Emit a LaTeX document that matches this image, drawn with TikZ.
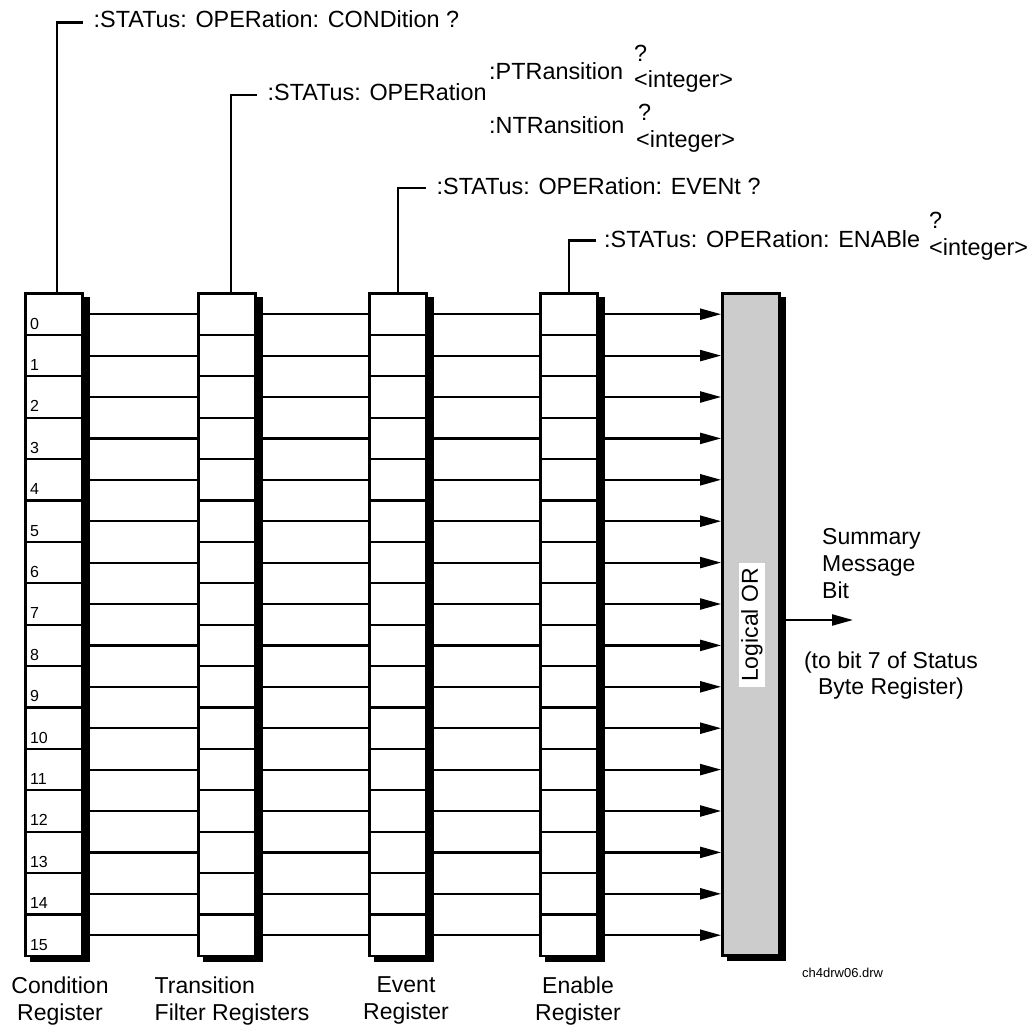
\documentclass[tikz,border=0pt]{standalone}
\usepackage{fontspec}
\setmainfont{Liberation Sans}
\usetikzlibrary{arrows.meta}
\pgfdeclarelayer{bg}
\pgfsetlayers{bg,main}
\definecolor{orfill}{HTML}{CCCCCC}
\begin{document}
\begin{tikzpicture}[x=1pt,y=-1pt,
  cell/.style={draw, fill=white, line width=2.2pt, minimum width=57pt, minimum height=41.4pt, inner sep=0pt},
  toplbl/.style={font=\fontsize{23.4}{27}\selectfont, inner sep=0pt, anchor=base west},
  botlbl/.style={font=\fontsize{23}{27}\selectfont, inner sep=0pt, anchor=north, align=center},
  bitlbl/.style={font=\fontsize{16}{18}\selectfont, inner sep=0pt, anchor=base west},
  wire/.style={line width=2.2pt},
  arr/.style={line width=2.2pt, -{Triangle[length=21pt,width=11pt]}},
]
\useasboundingbox (0,0) rectangle (1031,1025);

% registers
\foreach \i in {0,...,15} {
  \pgfmathsetmacro\yy{293.5+41.4*(\i+0.5)}
  \node[cell] (c-\i) at (54,\yy) {};
  \node[cell] (t-\i) at (227,\yy) {};
  \node[cell] (e-\i) at (398,\yy) {};
  \node[cell] (n-\i) at (569,\yy) {};
  \node[bitlbl] (b-\i) at ([shift={(5.5pt,7pt)}]c-\i.south west) {\i};
}

% logical OR
\node[draw, fill=orfill, line width=2.8pt, minimum width=57pt, minimum height=662pt, inner sep=0pt] (orbox) at (751,624.5) {};
\node[font=\fontsize{23}{27}\selectfont, fill=white, rotate=90, inner xsep=5pt, inner ysep=2pt] (orlbl) at (752,625) {Logical OR};

% shadows
\begin{pgfonlayer}{bg}
  \foreach \r in {c,t,e,n}
    \fill[black] ([shift={(6pt,-5pt)}]\r-0.north west) rectangle ([shift={(6pt,-5pt)}]\r-15.south east);
  \fill[black] ([shift={(5.5pt,-4.5pt)}]orbox.north west) rectangle ([shift={(5.5pt,-4.5pt)}]orbox.south east);
\end{pgfonlayer}

% connectors between registers
\foreach \i in {0,...,15} {
  \draw[wire] (c-\i.east) -- (t-\i.west);
  \draw[wire] (t-\i.east) -- (e-\i.west);
  \draw[wire] (e-\i.east) -- (n-\i.west);
  \draw[arr] (n-\i.east) -- (orbox.west |- n-\i.east);
}

% output
\coordinate (sumout) at (853,620);
\draw[arr] (orbox.east |- sumout) -- (sumout);
\node[font=\fontsize{23}{27}\selectfont, inner sep=0pt, align=left, anchor=north west] (sumlbl) at (822,528) {Summary\\Message\\Bit};
\node[font=\fontsize{23}{25.5}\selectfont, inner sep=0pt, align=center, anchor=north] (statlbl) at (891,652) {(to bit 7 of Status\\Byte Register)};

% top SCPI labels
\node[toplbl] (qcond) at (93.5,28) {:STATus: OPERation: CONDition ?};
\node[toplbl] (qtrans) at (267.5,100) {:STATus: OPERation};
\node[toplbl] (qpt) at (489,79) {:PTRansition};
\node[toplbl] (qptq) at (634,62) {?};
\node[toplbl] (qpti) at (634,88) {<integer>};
\node[toplbl] (qnt) at (489,133) {:NTRansition};
\node[toplbl] (qntq) at (638,120) {?};
\node[toplbl] (qnti) at (636,147) {<integer>};
\node[toplbl] (qevt) at (436.5,194) {:STATus: OPERation: EVENt ?};
\node[toplbl] (qen) at (604,247) {:STATus: OPERation: ENABle};
\node[toplbl] (qenq) at (929,228) {?};
\node[toplbl] (qeni) at (929,255) {<integer>};

\draw[wire] ([xshift=3pt]c-0.north) |- ([xshift=-11pt,yshift=5.5pt]qcond.base west);
\draw[wire] ([xshift=4pt]t-0.north) |- ([xshift=-11pt,yshift=5pt]qtrans.base west);
\draw[wire] (e-0.north) |- ([xshift=-11pt,yshift=6pt]qevt.base west);
\draw[wire] (n-0.north) |- ([xshift=-8.5pt,yshift=6.5pt]qen.base west);

% bottom labels
\node[botlbl] (lcond) at (60,976.5) {Condition\\Register};
\node[botlbl, anchor=north west, align=left] (ltrans) at (154.5,976.5) {Transition\\Filter Registers};
\node[botlbl] (levt) at (406,976.5) {Event\\Register};
\node[botlbl] (len) at (578,976.5) {Enable\\Register};
\node[font=\fontsize{13}{15}\selectfont, inner sep=0pt, anchor=base west] (fname) at (802,977) {ch4drw06.drw};
\end{tikzpicture}
\end{document}
